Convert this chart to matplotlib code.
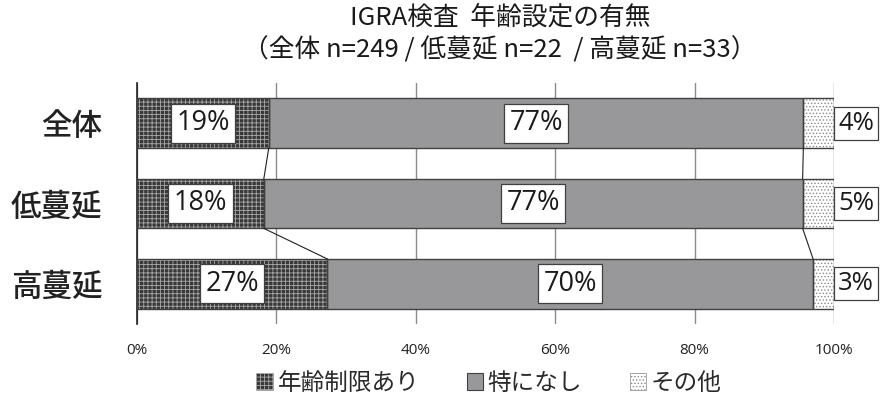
import matplotlib
matplotlib.use("Agg")
import matplotlib.pyplot as plt
from matplotlib.patches import Patch
import numpy as np

plt.rcParams['font.family'] = ['Noto Sans CJK JP', 'DejaVu Sans']
plt.rcParams['hatch.linewidth'] = 0.6

categories = ['全体', '低蔓延', '高蔓延']
series_names = ['年齢制限あり', '特になし', 'その他']
limited = [18.9, 18.2, 27.3]
none_sp = [76.7, 77.3, 69.7]
other = [4.4, 4.5, 3.0]
labels_limited = ['19%', '18%', '27%']
labels_none = ['77%', '77%', '70%']
labels_other = ['4%', '5%', '3%']
xticks = [0, 20, 40, 60, 80, 100]
xticklabels = ['0%', '20%', '40%', '60%', '80%', '100%']
title = 'IGRA検査  年齢設定の有無\n（全体 n=249 / 低蔓延 n=22  / 高蔓延 n=33）'

fig = plt.figure(figsize=(8.8, 4.01), dpi=100)
ax = fig.add_axes([137/880, 1-324/401, 697/880, 241/401])

y = np.arange(len(categories))
h = 0.62
edge = '#404040'

styles = [
    dict(color='#383838', hatch='++++', hc='#a8a8a8'),
    dict(color='#98989b', hatch=None, hc=None),
    dict(color='#ffffff', hatch='.....', hc='#8a8a8a'),
]
data = [limited, none_sp, other]
left = np.zeros(len(categories))
for vals, st in zip(data, styles):
    vals = np.array(vals)
    if st['hatch']:
        ax.barh(y, vals, left=left, height=h, color=st['color'], hatch=st['hatch'],
                edgecolor=st['hc'], linewidth=0, zorder=2)
    else:
        ax.barh(y, vals, left=left, height=h, color=st['color'], linewidth=0, zorder=2)
    ax.barh(y, vals, left=left, height=h, fill=False, edgecolor=edge, linewidth=1.0, zorder=3)
    left = left + vals

# series lines
cum1 = np.array(limited)
cum2 = np.array(limited) + np.array(none_sp)
for i in range(len(categories) - 1):
    for c in (cum1, cum2):
        ax.plot([c[i], c[i+1]], [y[i] + h/2, y[i+1] - h/2], color='#202020', lw=0.8, zorder=3)

box = dict(boxstyle='square,pad=0.2', facecolor='white', edgecolor='#404040', linewidth=0.9)
box_r = dict(boxstyle='square,pad=0.15', facecolor='white', edgecolor='#404040', linewidth=0.9)
lab_font = dict(family=['Open Sans', 'DejaVu Sans'], fontsize=19.5, color='#1a1a1a')
for i in range(len(categories)):
    ax.text(limited[i]/2, y[i], labels_limited[i], ha='center', va='center', bbox=box, zorder=5, **lab_font)
    ax.text(limited[i] + none_sp[i]/2, y[i], labels_none[i], ha='center', va='center', bbox=box, zorder=5, **lab_font)
    ax.text(100.6, y[i], labels_other[i], ha='left', va='center', bbox=box_r, zorder=5, clip_on=False,
            family=['Open Sans', 'DejaVu Sans'], fontsize=18.5, color='#1a1a1a')

ax.set_xlim(0, 100)
ax.set_ylim(2.5, -0.5)
ax.set_yticks(y)
ax.set_yticklabels(categories, fontsize=22, fontweight='medium', color='#222222')
ax.tick_params(axis='y', length=0, pad=25)
ax.set_xticks(xticks)
ax.set_xticklabels(xticklabels, fontsize=11, color='#222222', family=['Open Sans', 'DejaVu Sans'])
ax.tick_params(axis='x', length=0, pad=14)
ax.grid(axis='x', color='#8c8c8c', lw=1.0, zorder=0)
ax.set_axisbelow(True)
for s in ['top', 'right', 'bottom']:
    ax.spines[s].set_visible(False)
ax.spines['left'].set_color('#202020')
ax.spines['left'].set_linewidth(1.2)

fig.text(500/880, 1-34/401, title, ha='center', va='center', fontsize=18.5, color='#1a1a1a', linespacing=1.3)

handles = []
for st in styles:
    if st['hatch']:
        handles.append(Patch(facecolor=st['color'], hatch=st['hatch'], edgecolor=st['hc'], linewidth=0.5))
    else:
        handles.append(Patch(facecolor=st['color'], edgecolor=edge, linewidth=0.8))
fig.legend(handles, series_names, loc='center', bbox_to_anchor=(489/880, 1-383/401), ncol=3,
           frameon=False, fontsize=17, handlelength=0.7, handleheight=0.7, handletextpad=0.2,
           columnspacing=2.0, labelcolor='#2a2a2a')

fig.savefig('out.png', dpi=100)
